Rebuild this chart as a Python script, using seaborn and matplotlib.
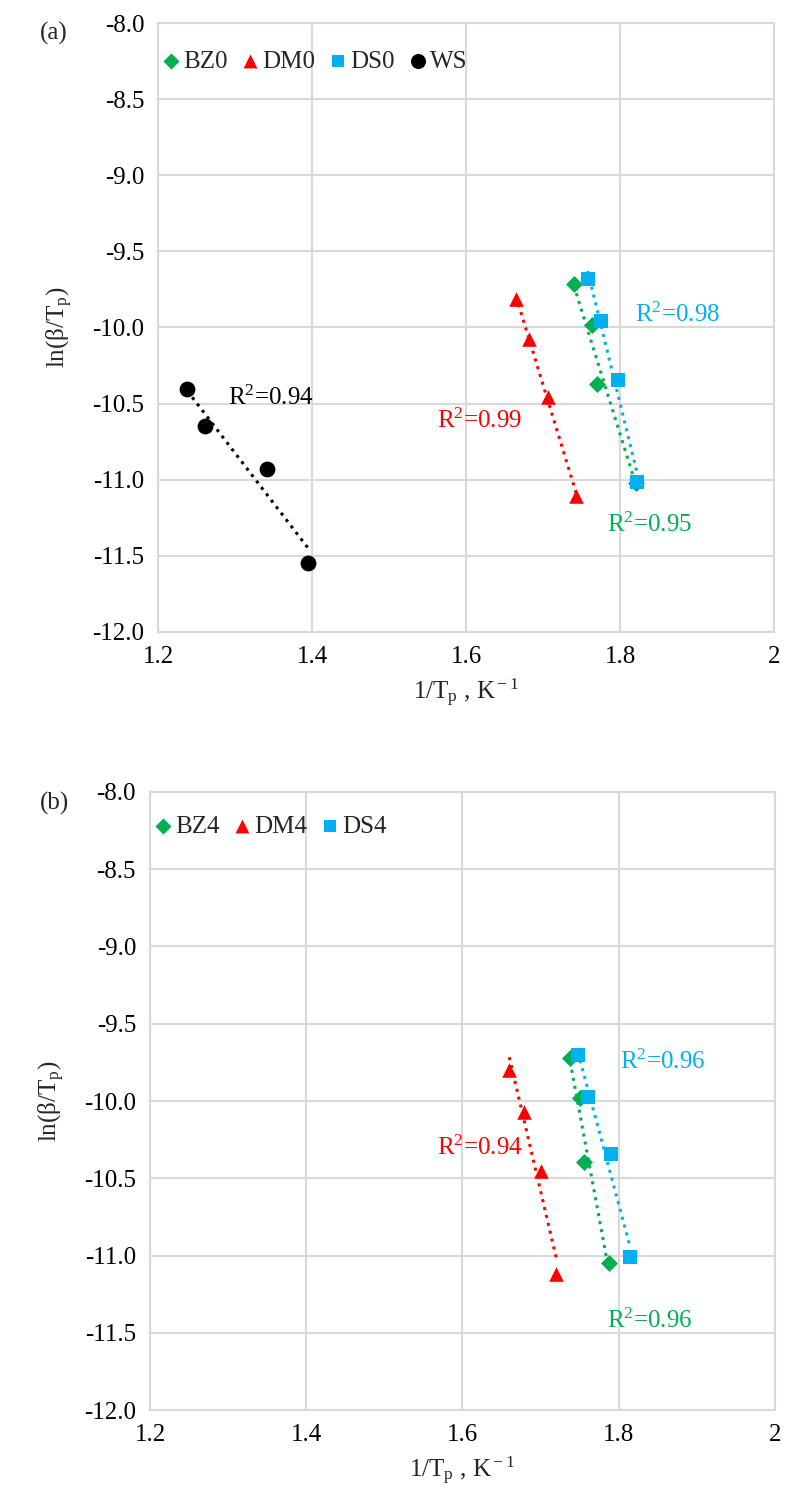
import numpy as np
import pandas as pd
import matplotlib
matplotlib.use("Agg")
import matplotlib.pyplot as plt
import seaborn as sns

# ---- data ----
# panel (a)
bz0_x = [1.740, 1.764, 1.770, 1.821]
bz0_y = [-9.716, -9.984, -10.371, -11.019]
dm0_x = [1.665, 1.682, 1.707, 1.743]
dm0_y = [-9.815, -10.077, -10.454, -11.107]
ds0_x = [1.758, 1.775, 1.797, 1.822]
ds0_y = [-9.683, -9.955, -10.345, -11.013]
ws_x = [1.238, 1.261, 1.341, 1.395]
ws_y = [-10.406, -10.647, -10.929, -11.547]

# panel (b)
bz4_x = [1.738, 1.750, 1.756, 1.787]
bz4_y = [-9.72, -9.98, -10.393, -11.05]
dm4_x = [1.660, 1.679, 1.700, 1.720]
dm4_y = [-9.80, -10.07, -10.45, -11.12]
ds4_x = [1.748, 1.761, 1.790, 1.814]
ds4_y = [-9.70, -9.976, -10.343, -11.008]

r2_a = ["0.95", "0.99", "0.98", "0.94"]
r2_b = ["0.96", "0.94", "0.96"]

GREEN = "#00B050"
RED = "#FF0000"
BLUE = "#00B0F0"
BLACK = "#000000"
GRID = "#D9D9D9"

sns.set_theme(style="white")
plt.rcParams["font.family"] = ["Liberation Serif", "DejaVu Serif"]
plt.rcParams["mathtext.fontset"] = "custom"
plt.rcParams["mathtext.rm"] = "Liberation Serif"
plt.rcParams["mathtext.it"] = "Liberation Serif:italic"

FS = 18

fig = plt.figure(figsize=(7.87, 14.94), dpi=100)
ax_a = fig.add_axes([0.2008, 0.5770, 0.7827, 0.4076])
ax_b = fig.add_axes([0.1906, 0.0562, 0.7940, 0.4137])

marker_size = {"D": 75, "^": 110, "s": 90, "o": 130}


def draw_series(ax, xs, ys, color, marker, label):
    df = pd.DataFrame({"x": xs, "y": ys})
    sns.regplot(data=df, x="x", y="y", ax=ax, scatter=False, ci=None, truncate=True,
                line_kws={"color": color, "linestyle": ":", "linewidth": 2.2})
    sns.scatterplot(data=df, x="x", y="y", ax=ax, color=color, marker=marker,
                    s=marker_size[marker], edgecolor=color, linewidth=0, label=label, zorder=5)


def style_axes(ax, leg_y):
    ax.set_xlim(1.2, 2.0)
    ax.set_ylim(-12.0, -8.0)
    ax.set_xticks([1.2, 1.4, 1.6, 1.8, 2.0])
    ax.set_xticklabels(["1.2", "1.4", "1.6", "1.8", "2"])
    ax.set_yticks(np.arange(-12.0, -7.9, 0.5))
    ax.set_yticklabels([f"{v:.1f}" for v in np.arange(-12.0, -7.9, 0.5)])
    ax.grid(True, color=GRID, linewidth=1.5)
    ax.set_axisbelow(True)
    for sp in ax.spines.values():
        sp.set_color(GRID)
        sp.set_linewidth(1.5)
    ax.tick_params(axis="both", labelsize=FS, length=0, pad=10, colors="black")
    ax.set_xlabel("1/T$_{\\rm p}$ , K$^{\\rm -1}$", fontsize=FS, labelpad=6)
    ax.set_ylabel("ln(\u03b2/T$_{\\rm p}$)", fontsize=FS, labelpad=12)
    ax.legend(loc="upper left", bbox_to_anchor=(0.0, leg_y), ncol=4, frameon=False,
              fontsize=FS, handletextpad=0.0, columnspacing=0.4, borderpad=0,
              borderaxespad=0, markerscale=0.95, handlelength=1.0)


# panel (a)
draw_series(ax_a, bz0_x, bz0_y, GREEN, "D", "BZ0")
draw_series(ax_a, dm0_x, dm0_y, RED, "^", "DM0")
draw_series(ax_a, ds0_x, ds0_y, BLUE, "s", "DS0")
draw_series(ax_a, ws_x, ws_y, BLACK, "o", "WS")
style_axes(ax_a, 0.955)
ax_a.text(1.783, -11.297, "R$^{2}$=" + r2_a[0], color=GREEN, fontsize=FS, va="center")
ax_a.text(1.562, -10.614, "R$^{2}$=" + r2_a[1], color=RED, fontsize=FS, va="center")
ax_a.text(1.819, -9.918, "R$^{2}$=" + r2_a[2], color=BLUE, fontsize=FS, va="center")
ax_a.text(1.291, -10.46, "R$^{2}$=" + r2_a[3], color=BLACK, fontsize=FS, va="center")

# panel (b)
draw_series(ax_b, bz4_x, bz4_y, GREEN, "D", "BZ4")
draw_series(ax_b, dm4_x, dm4_y, RED, "^", "DM4")
draw_series(ax_b, ds4_x, ds4_y, BLUE, "s", "DS4")
style_axes(ax_b, 0.962)
ax_b.text(1.785, -11.42, "R$^{2}$=" + r2_b[0], color=GREEN, fontsize=FS, va="center")
ax_b.text(1.568, -10.3, "R$^{2}$=" + r2_b[1], color=RED, fontsize=FS, va="center")
ax_b.text(1.8016, -9.748, "R$^{2}$=" + r2_b[2], color=BLUE, fontsize=FS, va="center")

fig.text(40 / 787, 1 - 33 / 1494, "(a)", fontsize=FS, va="center", ha="left")
fig.text(40 / 787, 1 - 803 / 1494, "(b)", fontsize=FS, va="center", ha="left")

fig.savefig("out.png", dpi=100, facecolor="white")
